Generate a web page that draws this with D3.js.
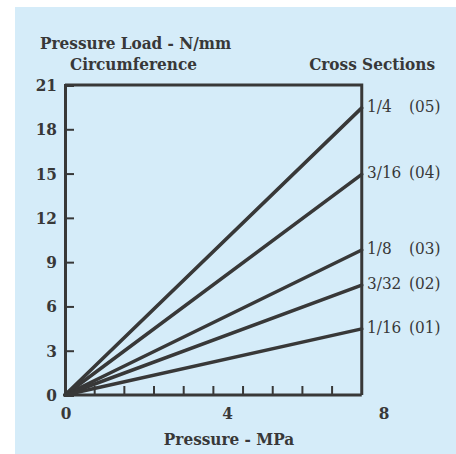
<!DOCTYPE html>
<html>
<head>
<meta charset="utf-8">
<script src="https://cdn.jsdelivr.net/npm/d3@7"></script>
<style>
  body { margin: 0; background: #ffffff; }
  text { font-family: "DejaVu Serif Condensed", "DejaVu Serif", serif; fill: #383838; }
</style>
</head>
<body>
<script>
// cross section sizes and the load they take at the end of the range
var sections = ["1/4", "3/16", "1/8", "3/32", "1/16"];
var codes = ["(05)", "(04)", "(03)", "(02)", "(01)"];
var loadAtMax = [19.45, 14.95, 9.82, 7.45, 4.48];

var yTicks = [0, 3, 6, 9, 12, 15, 18, 21];
var xTicks = [0, 4, 8];

var pMax = 7.35; // pressure where the frame ends

var width = 456, height = 454;

var svg = d3.select("body").append("svg")
  .attr("width", width)
  .attr("height", height);

// light blue panel
svg.append("rect")
  .attr("x", 15)
  .attr("y", 7)
  .attr("width", width - 15)
  .attr("height", height - 7)
  .attr("fill", "#d5ecf9");

var x = d3.scaleLinear().domain([0, 8]).range([65, 388]);
var y = d3.scaleLinear().domain([0, 21]).range([395, 85]);

var ink = "#383838";

// frame (top and right side)
svg.append("path")
  .attr("d", "M" + x(0) + "," + y(21) + "H" + x(pMax) + "V" + y(0))
  .attr("fill", "none")
  .attr("stroke", ink)
  .attr("stroke-width", 3);

// left axis with inward ticks
var yAxis = svg.append("g")
  .attr("transform", "translate(" + x(0) + ",0)")
  .call(d3.axisLeft(y).tickValues(yTicks).tickSize(-9).tickPadding(17).tickFormat(d3.format("d")));
yAxis.select(".domain").attr("stroke", ink).attr("stroke-width", 3);
yAxis.selectAll(".tick line").attr("stroke", ink).attr("stroke-width", 2)
  .filter(function (d) { return d === 0 || d === 21; }).remove();
yAxis.selectAll(".tick text")
  .style("font-size", "17px").style("font-weight", "bold")
  .attr("x", -8)
  .attr("fill", ink);

// bottom axis, minor ticks pointing up
var minor = d3.range(1, 10).map(function (i) { return pMax * i / 10; });
var xg = svg.append("g").attr("transform", "translate(0," + y(0) + ")");
xg.append("line")
  .attr("x1", x(0)).attr("x2", x(pMax))
  .attr("stroke", ink).attr("stroke-width", 3);
xg.selectAll(".minor").data(minor).enter().append("line")
  .attr("class", "minor")
  .attr("x1", function (d) { return x(d); })
  .attr("x2", function (d) { return x(d); })
  .attr("y1", 0).attr("y2", -9)
  .attr("stroke", ink).attr("stroke-width", 2);
xg.selectAll(".xl").data(xTicks).enter().append("text")
  .attr("class", "xl")
  .attr("x", function (d) { return d === 8 ? x(d) - 4 : x(d) + 1; })
  .attr("y", 24)
  .attr("text-anchor", "middle")
  .style("font-size", "17px").style("font-weight", "bold")
  .text(function (d) { return d; });

// the lines, all from the origin
svg.selectAll(".sect").data(loadAtMax).enter().append("line")
  .attr("class", "sect")
  .attr("x1", x(0)).attr("y1", y(0))
  .attr("x2", x(pMax))
  .attr("y2", function (d) { return y(d); })
  .attr("stroke", ink)
  .attr("stroke-width", 3.5)
  .attr("stroke-linecap", "round");

// labels on the right
var lab = svg.selectAll(".lab").data(loadAtMax).enter().append("g")
  .attr("class", "lab")
  .attr("transform", function (d) { return "translate(0," + (y(d) - 2) + ")"; });
lab.append("text")
  .attr("x", 367).attr("dy", "0.36em")
  .style("font-size", "17px")
  .text(function (d, i) { return sections[i]; });
lab.append("text")
  .attr("x", 409).attr("dy", "0.36em")
  .style("font-size", "17px")
  .text(function (d, i) { return codes[i]; });

// titles
svg.append("text").attr("x", 40).attr("y", 49)
  .style("font-size", "17px").style("font-weight", "bold")
  .text("Pressure Load - N/mm");
svg.append("text").attr("x", 70).attr("y", 70)
  .style("font-size", "17px").style("font-weight", "bold")
  .text("Circumference");
svg.append("text").attr("x", 435).attr("y", 70)
  .attr("text-anchor", "end")
  .style("font-size", "17px").style("font-weight", "bold")
  .text("Cross Sections");
svg.append("text").attr("x", 229).attr("y", 445)
  .attr("text-anchor", "middle")
  .style("font-size", "17px").style("font-weight", "bold")
  .text("Pressure - MPa");
</script>
</body>
</html>
